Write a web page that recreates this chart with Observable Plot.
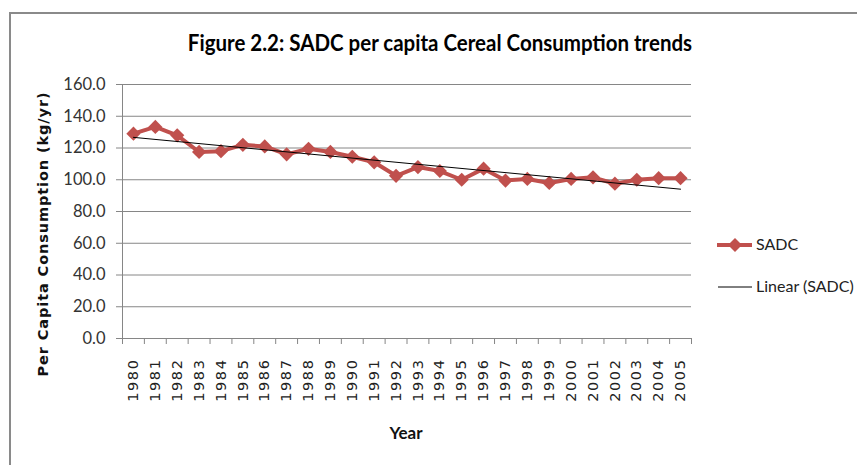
<!DOCTYPE html>
<html>
<head>
<meta charset="utf-8">
<script src="https://cdn.jsdelivr.net/npm/d3@7"></script>
<script src="https://cdn.jsdelivr.net/npm/@observablehq/plot@0.6"></script>
<style>
  html, body { margin: 0; padding: 0; background: #fff; overflow: hidden; }
  #wrap { position: relative; width: 857px; height: 465px; overflow: hidden; background: #fff; }
  #frame { position: absolute; left: 9px; top: 12px; width: 900px; height: 500px; border-left: 2px solid #8a8a8a; border-top: 2px solid #8a8a8a; }
  #chart { position: absolute; left: 0; top: 0; }
  #title { position: absolute; left: 0; width: 880px; top: 30px; text-align: center; font-family: Lato, sans-serif; font-weight: 700; font-size: 20.5px; color: #000; white-space: nowrap; transform: scaleY(1.08); }
  #ylabel { position: absolute; left: 43px; top: 234px; transform: translate(-50%, -50%) rotate(-90deg); font-family: "DejaVu Sans", sans-serif; font-weight: 700; font-size: 14.5px; letter-spacing: 0.9px; color: #111; white-space: nowrap; }
  #xlabel { position: absolute; left: 406px; top: 422px; transform: translateX(-50%); font-family: Lato, sans-serif; font-weight: 700; font-size: 17px; color: #111; }
  .leg { position: absolute; font-family: Lato, sans-serif; font-size: 16px; color: #222; white-space: nowrap; }
</style>
</head>
<body>
<div id="wrap">
  <div id="frame"></div>
  <div id="chart"></div>
  <div id="title">Figure 2.2: SADC per capita Cereal Consumption trends</div>
  <div id="ylabel">Per Capita Consumption (kg/yr)</div>
  <div id="xlabel">Year</div>
  <div id="legend"></div>
</div>
<script>
// ---- data ----
const years = [1980, 1981, 1982, 1983, 1984, 1985, 1986, 1987, 1988, 1989, 1990, 1991, 1992,
               1993, 1994, 1995, 1996, 1997, 1998, 1999, 2000, 2001, 2002, 2003, 2004, 2005];
const sadc = [129, 133.3, 128, 117.5, 118, 122, 121, 116, 119.5, 117.5, 114.5, 111, 102.5,
              108, 105.5, 100, 107, 99.5, 100.5, 98, 100.5, 101.5, 97.5, 100, 101, 101];
const yTicks = [0, 20, 40, 60, 80, 100, 120, 140, 160];
const seriesName = "SADC";
const trendName = "Linear (SADC)";

const table = years.map((y, i) => ({year: y, value: sadc[i]}));
const boundaries = [...years.map(y => y - 0.5), years[years.length - 1] + 0.5];

const red = "#C0504D";
const axisGray = "#868686";

const chart = Plot.plot({
  width: 857,
  height: 465,
  marginLeft: 122,
  marginRight: 166,
  marginTop: 84,
  marginBottom: 127,
  style: {background: "transparent", overflow: "visible"},
  x: {type: "linear", domain: [boundaries[0], boundaries[boundaries.length - 1]]},
  y: {domain: [0, 160]},
  marks: [
    Plot.gridY(yTicks.filter(d => d > 0), {stroke: axisGray, strokeOpacity: 1, strokeWidth: 1}),
    Plot.ruleX([boundaries[0]], {stroke: axisGray, strokeWidth: 1}),
    Plot.ruleY([0], {stroke: axisGray, strokeWidth: 1}),
    Plot.axisY({ticks: yTicks, tickSize: 6, tickPadding: 11, tickFormat: d => d.toFixed(1),
      stroke: axisGray, fill: "#333", fontSize: 16.5, fontFamily: "Lato, sans-serif", label: null}),
    Plot.axisX({ticks: boundaries, tickSize: 6, tickFormat: () => "", stroke: axisGray, label: null}),
    Plot.axisX({ticks: years, tickSize: 0, tickPadding: 20, tickRotate: -90, tickFormat: d => String(d),
      fill: "#222", fontSize: 14.5, fontFamily: "DejaVu Sans, sans-serif", label: null}),
    Plot.line(table, {x: "year", y: "value", stroke: red, strokeWidth: 4}),
    Plot.dot(table, {x: "year", y: "value", symbol: "diamond2", r: 6.4, fill: red, stroke: "none"}),
    Plot.linearRegressionY(table, {x: "year", y: "value", stroke: "#000", strokeWidth: 1, ci: 0})
  ]
});
document.getElementById("chart").appendChild(chart);
chart.querySelectorAll('[aria-label="x-axis tick label"] text').forEach(t => t.style.letterSpacing = "1.6px");

// ---- legend (HTML + small SVG swatches) ----
const legend = document.getElementById("legend");
const items = [
  {name: seriesName, y: 245, kind: "series"},
  {name: trendName, y: 287, kind: "trend"}
];
items.forEach(it => {
  const sw = d3.create("svg").attr("width", 40).attr("height", 16)
    .style("position", "absolute").style("left", "714px").style("top", (it.y - 8) + "px");
  if (it.kind === "series") {
    sw.append("line").attr("x1", 3).attr("x2", 38).attr("y1", 8).attr("y2", 8).attr("stroke", red).attr("stroke-width", 4);
    sw.append("path").attr("d", d3.symbol(d3.symbolDiamond2, Math.PI * 40)()).attr("transform", "translate(21,8)").attr("fill", red);
  } else {
    sw.append("line").attr("x1", 4).attr("x2", 38).attr("y1", 8).attr("y2", 8).attr("stroke", "#000").attr("stroke-width", 1);
  }
  legend.appendChild(sw.node());
  const lab = document.createElement("div");
  lab.className = "leg";
  lab.textContent = it.name;
  lab.style.left = "756px";
  lab.style.top = (it.y - 11) + "px";
  legend.appendChild(lab);
});
</script>
</body>
</html>
